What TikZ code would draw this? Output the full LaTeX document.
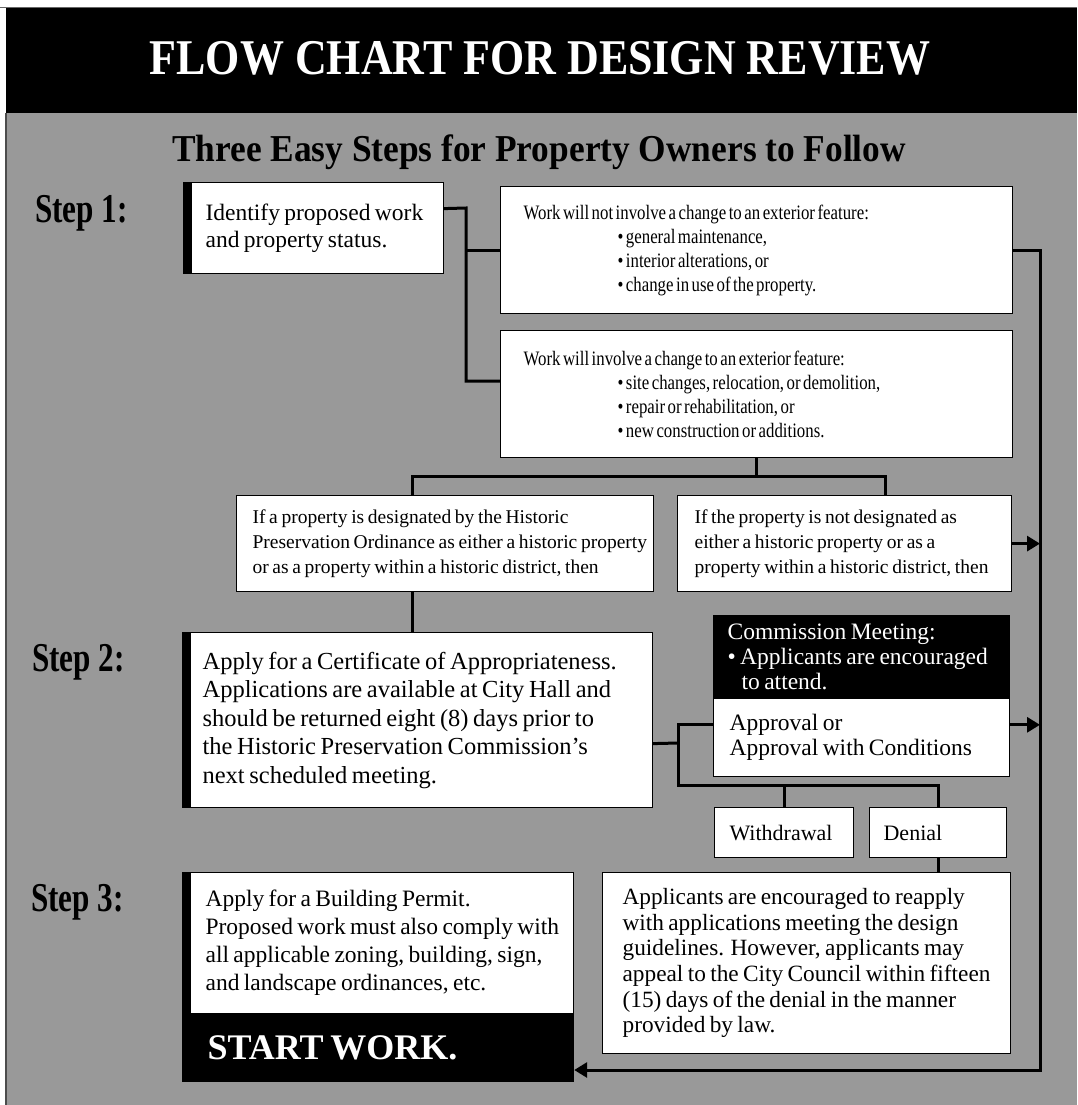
\documentclass[tikz,border=0pt]{standalone}
\usepackage{fontspec}
\setmainfont[WordSpace=0.75]{Liberation Serif}
\newfontfamily\narrowfont[FakeStretch=0.82,WordSpace=0.6]{Liberation Serif}
\newfontfamily\titlefont[FakeStretch=0.88]{Liberation Serif}
\newfontfamily\subtitlefont[FakeStretch=0.93]{Liberation Serif}
\newfontfamily\stepfont[FakeStretch=0.76]{Liberation Serif}
\usetikzlibrary{arrows.meta}
\definecolor{panel}{RGB}{153,153,153}
\hyphenpenalty=10000
\exhyphenpenalty=10000

\begin{document}
\begin{tikzpicture}[x=1pt,y=-1pt]
\tikzset{box/.style={draw=black,line width=1.2pt,fill=white,anchor=north west,align=flush left,inner ysep=0pt}}
\tikzset{conn/.style={line width=3pt}}
\tikzset{arr/.style={conn,-{Triangle[length=13pt,width=15pt]}}}
\tikzset{steplabel/.style={anchor=base west,inner sep=0pt,font=\stepfont\bfseries\fontsize{41}{41}\selectfont}}
\useasboundingbox (0,0) rectangle (1077,1105);
\fill[panel] (6,113) rectangle (1077,1105);
\fill (6,8) rectangle (1077,113);
\draw[black!60,line width=1pt] (0,7.5) -- (1077,7.5);
\draw[black!70,line width=1.2pt] (6,113) -- (6,1105);
\node[anchor=base,text=white,font=\titlefont\bfseries\fontsize{50}{50}\selectfont] (title) at (540,75) {FLOW CHART FOR DESIGN REVIEW};
\node[anchor=base,font=\subtitlefont\bfseries\fontsize{38}{38}\selectfont] (subtitle) at (539,161) {Three Easy Steps for Property Owners to Follow};
\node[steplabel] (step1) at (35,222) {Step 1:};
\node[steplabel] (step2) at (32,671) {Step 2:};
\node[steplabel] (step3) at (31,911) {Step 3:};
\node[box,minimum height=91pt,text width=216pt,inner xsep=22pt,font=\fontsize{23.5}{27}\selectfont] (identify) at (183,182) {\mbox{Identify proposed work}\\and property status.};
\node[box,minimum height=127pt,text width=466pt,inner xsep=23pt,font=\narrowfont\fontsize{20.5}{24}\selectfont] (nochange) at (500,186) {Work will not involve a change to an exterior feature:\\
\hspace*{94pt}• general maintenance,\\
\hspace*{94pt}• interior alterations, or\\
\hspace*{94pt}• change in use of the property.};
\node[box,minimum height=127pt,text width=466pt,inner xsep=23pt,font=\narrowfont\fontsize{20.5}{24}\selectfont] (change) at (500,330) {Work will involve a change to an exterior feature:\\
\hspace*{94pt}• site changes, relocation, or demolition,\\
\hspace*{94pt}• repair or rehabilitation, or\\
\hspace*{94pt}• new construction or additions.};
\node[box,minimum height=96pt,text width=385pt,inner xsep=16pt,font=\fontsize{19.5}{25}\selectfont] (designated) at (236,495) {If a property is designated by the Historic\\\mbox{Preservation Ordinance as either a historic property}\\\mbox{or as a property within a historic district, then}};
\node[box,minimum height=96pt,text width=300pt,inner xsep=17pt,font=\fontsize{19.5}{25}\selectfont] (notdesig) at (677,495) {If the property is not designated as\\either a historic property or as a\\\mbox{property within a historic district, then}};
\node[box,minimum height=175pt,text width=430pt,inner xsep=20pt,font=\fontsize{24.5}{28.5}\selectfont] (coa) at (182,632) {\mbox{Apply for a Certificate of Appropriateness.}\\\mbox{Applications are available at City Hall and}\\\mbox{should be returned eight (8) days prior to}\\the Historic Preservation Commission's\\next scheduled meeting.};
\node[box,fill=black,text=white,minimum height=82pt,text width=268pt,inner xsep=14pt,font=\fontsize{23.5}{25}\selectfont] (meeting) at (713,615) {Commission Meeting:\\\mbox{• Applicants are encouraged}\\\hspace*{14pt}to attend.};
\node[box,minimum height=78pt,text width=264pt,inner xsep=16pt,font=\fontsize{23.5}{25}\selectfont] (approval) at (meeting.south west) {Approval or\\\mbox{Approval with Conditions}};
\node[box,minimum height=50pt,text width=109pt,inner xsep=15pt,font=\fontsize{22}{25}\selectfont] (withdraw) at (714,807) {Withdrawal};
\node[box,minimum height=50pt,text width=109pt,inner xsep=14pt,font=\fontsize{22}{25}\selectfont] (denial) at (869,807) {Denial};
\node[box,minimum height=141pt,text width=345pt,inner xsep=23pt,font=\fontsize{23.5}{28}\selectfont] (permit) at (182,872) {Apply for a Building Permit.\\\mbox{Proposed work must also comply with}\\\mbox{all applicable zoning, building, sign,}\\\mbox{and landscape ordinances, etc.}};
\node[box,fill=black,text=white,minimum height=67pt,text width=341pt,inner xsep=25pt,font=\bfseries\fontsize{36}{36}\selectfont] (start) at (permit.south west) {START WORK.};
\node[box,minimum height=181pt,text width=368pt,inner xsep=20pt,font=\fontsize{23.3}{25.6}\selectfont] (reapply) at (602,872) {\mbox{Applicants are encouraged to reapply}\\\mbox{with applications meeting the design}\\\mbox{guidelines.  However, applicants may}\\\mbox{appeal to the City Council within fifteen}\\\mbox{(15) days of the denial in the manner}\\provided by law.};
\foreach \n in {identify,coa,permit}
  \fill (\n.north west) rectangle ([xshift=9pt]\n.south west);
\coordinate (j1) at (466,208);
\coordinate (jr) at (1040,1070);
\coordinate (j2) at (412,476);
\coordinate (j2r) at (885,476);
\coordinate (j3) at (678,743);
\coordinate (j4) at (678,785);
\draw[conn] ([yshift=19.5pt]identify.east) -- (j1) |- ([yshift=13pt]change.west);
\draw[conn] (j1 |- nochange.west) -- (nochange.west);
\draw[arr] (nochange.east) -| (jr) -- (jr -| start.east);
\draw[conn] (change.south) -- (change.south |- j2);
\draw[conn] (j2 |- designated.north) -- (j2) -- (j2r) -- (j2r |- notdesig.north);
\draw[conn] (j2 |- designated.south) -- (j2 |- coa.north);
\draw[arr] (notdesig.east) -- (notdesig.east -| jr);
\draw[conn] ([yshift=-23.5pt]coa.east) -- (j3);
\draw[conn] ([yshift=13pt]approval.west) -| (j4) -| (denial.north);
\draw[conn] (withdraw.north) -- (withdraw.north |- j4);
\draw[arr] ([yshift=13pt]approval.east) -- ([yshift=13pt]approval.east -| jr);
\draw[conn] (denial.south) -- (denial.south |- reapply.north);
\end{tikzpicture}
\end{document}
